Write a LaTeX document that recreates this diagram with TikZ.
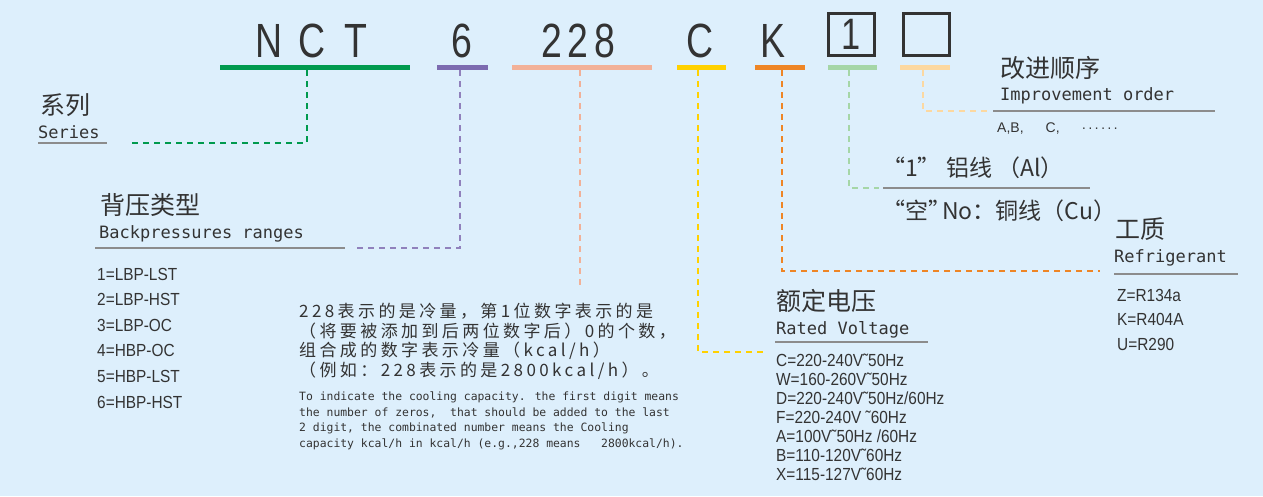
\documentclass[tikz,border=0pt]{standalone}
\usepackage{fontspec}
\setmainfont{Liberation Sans}
\newfontfamily\cjk{Noto Sans CJK SC}
\newfontfamily\cjkp[LetterSpace=20]{Noto Sans CJK SC}
\newfontfamily\codefont[FakeStretch=0.78]{Liberation Sans}
\newfontfamily\listfont[FakeStretch=0.88]{Liberation Sans}
\newfontfamily\engmono{DejaVu Sans Mono}
\definecolor{bg}{HTML}{DDEFFC}
\definecolor{ink}{HTML}{333333}
\definecolor{rulec}{HTML}{8C8C8C}
\definecolor{cgreen}{HTML}{009A4E}
\definecolor{cpurple}{HTML}{7C6BB0}
\definecolor{csalmon}{HTML}{F2B198}
\definecolor{cyellow}{HTML}{FFD100}
\definecolor{corange}{HTML}{EE8525}
\definecolor{clgreen}{HTML}{A5D6A7}
\definecolor{clorange}{HTML}{FCD8A0}
\tikzset{
  code/.style={inner sep=0, text=ink, anchor=base, font=\codefont\fontsize{48}{48}\selectfont},
  codebox/.style={draw=ink, line width=3pt, minimum width=46pt, minimum height=42pt, inner sep=0, text=ink, font=\codefont\fontsize{44}{44}\selectfont},
  bar/.style={fill=#1, inner sep=0, minimum height=5pt},
  conn/.style={draw=#1, line width=2pt, dash pattern=on 6pt off 5pt},
  rulel/.style={draw=rulec, line width=1.3pt},
  head/.style={inner sep=0, text=ink, anchor=west, font=\cjk\fontsize{25}{25}\selectfont},
  sub/.style={inner sep=0, text=ink, anchor=base west, font=\engmono\fontsize{17}{17}\selectfont},
  item/.style={inner sep=0, text=ink, anchor=west, font=\listfont\fontsize{17.5}{17.5}\selectfont},
  para/.style={inner sep=0, text=ink, anchor=base west, font=\cjkp\fontsize{17}{17}\selectfont},
  eng/.style={inner sep=0, text=ink, anchor=base west, font=\engmono\fontsize{11.4}{11.4}\selectfont},
  wire/.style={inner sep=0, text=ink, anchor=west, font=\cjk\fontsize{23}{23}\selectfont},
}
\begin{document}
\begin{tikzpicture}[x=1pt,y=-1pt]
\fill[bg] (0,0) rectangle (1263,496);
\useasboundingbox (0,0) rectangle (1263,496);

% code letters
\node[code] (cN) at (269,57) {N};
\node[code] (cC) at (312,57) {C};
\node[code] (cT) at (356,57) {T};
\node[code] (c6) at (462,57) {6};
\node[code] (c2a) at (552,57) {2};
\node[code] (c2b) at (578,57) {2};
\node[code] (c8) at (605,57) {8};
\node[code] (cC2) at (700,57) {C};
\node[code] (cK) at (773,57) {K};
\node[codebox] (b1) at (851.5,34.5) {1};
\node[codebox] (b2) at (926,34.5) {};

% bars
\node[bar=cgreen, minimum width=190pt] (barG) at (315,67.5) {};
\node[bar=cpurple, minimum width=51pt] (barP) at (462.5,67.5) {};
\node[bar=csalmon, minimum width=140pt] (barS) at (582,67.5) {};
\node[bar=cyellow, minimum width=49pt] (barY) at (701.5,67.5) {};
\node[bar=corange, minimum width=50pt] (barO) at (780,67.5) {};
\node[bar=clgreen, minimum width=49pt] (barLG) at (852.5,67.5) {};
\node[bar=clorange, minimum width=50pt] (barLO) at (925,67.5) {};

% connector coordinates
\coordinate (gc) at (307,143); \coordinate (ge) at (132,143);
\coordinate (pc) at (460,248); \coordinate (pe) at (357,248);
\coordinate (sc) at (580,287);
\coordinate (yc) at (698,352); \coordinate (ye) at (763,352);
\coordinate (oc) at (782,271); \coordinate (oe) at (1100,271);
\coordinate (lgc) at (849,188); \coordinate (lge) at (879,188);
\coordinate (loc) at (923,111); \coordinate (loe) at (990,111);

\draw[conn=cgreen] (barG.south -| gc) |- (ge);
\draw[conn=cpurple!85] (barP.south -| pc) |- (pe);
\draw[conn=csalmon] (barS.south -| sc) -- (sc);
\draw[conn=cyellow] (barY.south -| yc) |- (ye);
\draw[conn=corange] (barO.south -| oc) |- (oe);
\draw[conn=clgreen] (barLG.south -| lgc) |- (lge);
\draw[conn=clorange] (barLO.south -| loc) |- (loe);

% Series
\node[head] (hSer) at (40,105) {系列};
\node[sub] (sSer) at (38,138) {Series};
\coordinate (rS1) at (38,143); \coordinate (rS2) at (107,143);
\draw[rulel] (rS1) -- (rS2);

% Backpressure
\node[head] (hBp) at (100,205) {背压类型};
\node[sub] (sBp) at (99,238) {Backpressures ranges};
\coordinate (rB1) at (95,248); \coordinate (rB2) at (345,248);
\draw[rulel] (rB1) -- (rB2);
\node[item] (i1) at (97,274) {1=LBP-LST};
\node[item] (i2) at (97,299.6) {2=LBP-HST};
\node[item] (i3) at (97,325.2) {3=LBP-OC};
\node[item] (i4) at (97,350.8) {4=HBP-OC};
\node[item] (i5) at (97,376.4) {5=HBP-LST};
\node[item] (i6) at (97,402) {6=HBP-HST};

% capacity paragraph
\node[para] (p1) at (299,317) {228表示的是冷量，第1位数字表示的是};
\node[para] (p2) at (299,337) {（将要被添加到后两位数字后）0的个数，};
\node[para] (p3) at (299,356.5) {组合成的数字表示冷量（kcal/h）};
\node[para] (p4) at (299,376) {（例如：228表示的是2800kcal/h）。};
\node[eng] (e1) at (299,400.5) {To indicate the cooling capacity. the first digit means};
\node[eng] (e2) at (299,416) {the number of zeros,~ that should be added to the last};
\node[eng] (e3) at (299,431.5) {2 digit, the combinated number means the Cooling};
\node[eng] (e4) at (299,447) {capacity kcal/h in kcal/h (e.g.,228 means~~ 2800kcal/h).};

% Rated voltage
\node[head] (hRv) at (776,301) {额定电压};
\node[sub] (sRv) at (776,334) {Rated Voltage};
\coordinate (rR1) at (775,342); \coordinate (rR2) at (928,342);
\draw[rulel] (rR1) -- (rR2);
\node[item] (v1) at (776,360) {C=220-240V˜50Hz};
\node[item] (v2) at (776,379.1) {W=160-260V˜50Hz};
\node[item] (v3) at (776,398.2) {D=220-240V˜50Hz/60Hz};
\node[item] (v4) at (776,417.3) {F=220-240V ˜60Hz};
\node[item] (v5) at (776,436.4) {A=100V˜50Hz /60Hz};
\node[item] (v6) at (776,455.5) {B=110-120V˜60Hz};
\node[item] (v7) at (776,474.6) {X=115-127V˜60Hz};

% Improvement order
\node[head] (hIo) at (1000,68) {改进顺序};
\node[sub] (sIo) at (1000,100) {Improvement order};
\coordinate (rI1) at (993,111); \coordinate (rI2) at (1215,111);
\draw[rulel] (rI1) -- (rI2);
\node[inner sep=0, text=ink, anchor=west, font=\fontsize{14}{14}\selectfont] (io) at (997,129) {A,B,\hspace{22pt}C,\hspace{22pt}·\kern1.7pt·\kern1.7pt·\kern1.7pt·\kern1.7pt·\kern1.7pt·};

% wire
\node[wire] (w1) at (882,168) {“1” 铝线 （Al）};
\coordinate (rW1) at (883,188); \coordinate (rW2) at (1090,188);
\draw[rulel] (rW1) -- (rW2);
\node[wire] (w2) at (882,211) {“空”\kern-9pt No：铜线（Cu）};

% Refrigerant
\node[head] (hRf) at (1115,229) {工质};
\node[sub] (sRf) at (1114,262) {Refrigerant};
\coordinate (rF1) at (1114,274); \coordinate (rF2) at (1238,274);
\draw[rulel] (rF1) -- (rF2);
\node[item] (f1) at (1117,295) {Z=R134a};
\node[item] (f2) at (1117,319.5) {K=R404A};
\node[item] (f3) at (1117,344) {U=R290};
\end{tikzpicture}
\end{document}
